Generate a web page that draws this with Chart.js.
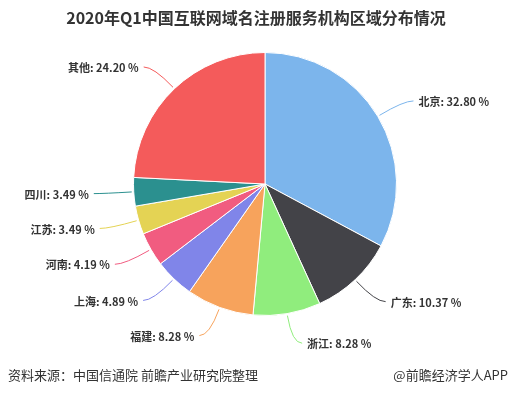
<!DOCTYPE html>
<html>
<head>
<meta charset="utf-8">
<script src="https://cdn.jsdelivr.net/npm/chart.js@4"></script>
<style>
html, body { margin: 0; padding: 0; background: #fff; }
#wrap { position: relative; width: 513px; height: 395px; }
</style>
</head>
<body>
<div id="wrap"><canvas id="pieChart" width="513" height="395"></canvas></div>
<script>
var regions = ['北京', '广东', '浙江', '福建', '上海', '河南', '江苏', '四川', '其他'];
var shares = [32.80, 10.37, 8.28, 8.28, 4.89, 4.19, 3.49, 3.49, 24.20];
var sliceColors = ['#7cb5ec', '#434348', '#90ed7d', '#f7a35c', '#8085e9', '#f15c80', '#e4d354', '#2b908f', '#f45b5b'];
var titleText = '2020年Q1中国互联网域名注册服务机构区域分布情况';
var sourceText = '资料来源：中国信通院 前瞻产业研究院整理';
var brandText = '@前瞻经济学人APP';

var CJK = "'Noto Sans CJK SC', 'Noto Sans', sans-serif";

// outside labels with connectors, like the original
var outsideLabels = {
    id: 'outsideLabels',
    afterDatasetsDraw: function(chart) {
        var ctx = chart.ctx;
        var arcs = chart.getDatasetMeta(0).data;
        ctx.save();
        ctx.font = 'bold 11px ' + CJK;
        ctx.textBaseline = 'middle';
        for (var i = 0; i < arcs.length; i++) {
            var a = arcs[i];
            var mid = (a.startAngle + a.endAngle) / 2;
            var r = a.outerRadius;
            var cos = Math.cos(mid), sin = Math.sin(mid);
            var ex = a.x + cos * r, ey = a.y + sin * r;
            var px = a.x + cos * (r + 30), py = a.y + sin * (r + 30);
            var right = cos >= 0;
            var lx = px + (right ? 10 : -10);
            ctx.strokeStyle = sliceColors[i];
            ctx.lineWidth = 1;
            ctx.beginPath();
            ctx.moveTo(lx, py);
            ctx.quadraticCurveTo(px, py, ex + cos * 2, ey + sin * 2);
            ctx.stroke();
            ctx.fillStyle = '#333';
            ctx.textAlign = right ? 'left' : 'right';
            ctx.fillText(regions[i] + ': ' + shares[i].toFixed(2) + ' %', px + (right ? 15 : -15), py + 1);
        }
        ctx.restore();
    }
};

var pageText = {
    id: 'pageText',
    afterDraw: function(chart) {
        var ctx = chart.ctx;
        ctx.save();
        ctx.fillStyle = '#333';
        ctx.textBaseline = 'middle';
        ctx.textAlign = 'center';
        ctx.font = 'bold 16px ' + CJK;
        ctx.fillText(titleText, 256, 18);
        ctx.font = '13px ' + CJK;
        ctx.textAlign = 'left';
        ctx.fillText(sourceText, 8, 375);
        ctx.textAlign = 'right';
        ctx.fillText(brandText, 508, 375);
        ctx.restore();
    }
};

var ctx = document.getElementById('pieChart').getContext('2d');
var pieChart = new Chart(ctx, {
    type: 'pie',
    data: {
        labels: regions,
        datasets: [{
            data: shares,
            backgroundColor: sliceColors,
            borderColor: '#ffffff',
            borderWidth: 1
        }]
    },
    options: {
        responsive: false,
        animation: false,
        layout: { padding: { top: 52, bottom: 79, left: 17, right: 0 } },
        plugins: {
            legend: { display: false },
            tooltip: { enabled: false }
        }
    },
    plugins: [outsideLabels, pageText]
});
</script>
</body>
</html>
